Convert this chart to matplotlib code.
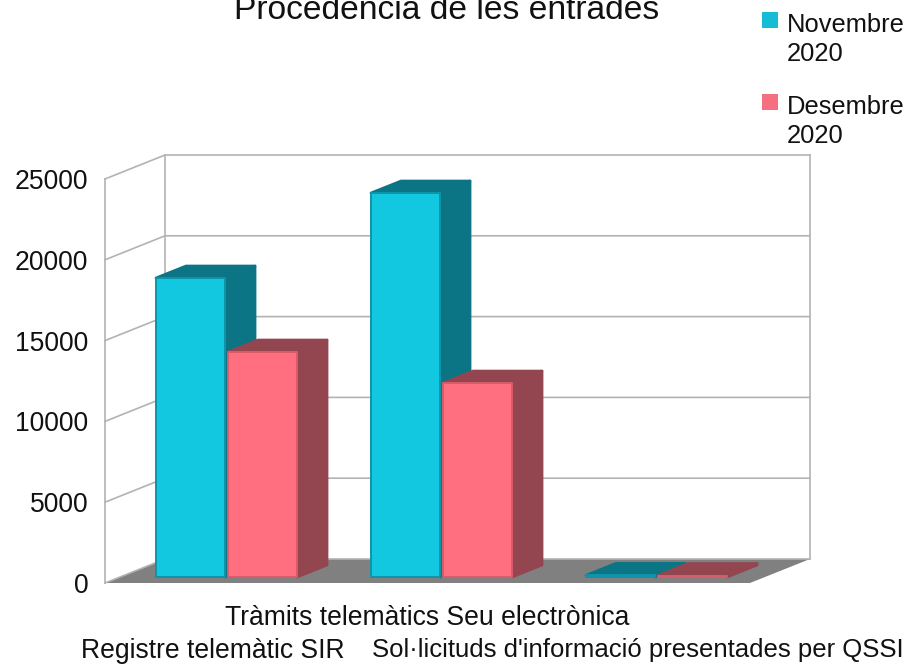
import matplotlib
matplotlib.use("Agg")
import matplotlib.pyplot as plt
from matplotlib.patches import Polygon, Rectangle

plt.rcParams['font.family'] = ['Liberation Sans', 'DejaVu Sans']

W, H = 917, 666

categories = ["Registre telemàtic SIR", "Tràmits telemàtics Seu electrònica",
              "Sol·licituds d'informació presentades per QSSI"]
series_names = ["Novembre\n2020", "Desembre\n2020"]
novembre = [18500, 23760, 100]
desembre = [13920, 12000, 90]
yticks = [0, 5000, 10000, 15000, 20000, 25000]
title = "Procedència de les entrades"

# front, top/side, edge, legend
cyan = ("#12c8e0", "#0b7585", "#0f94a8", "#14bcd4")
pink = ("#ff6f80", "#944650", "#d85c6b", "#f56f80")

fig = plt.figure(figsize=(W/100, H/100), dpi=100)

# front plane of the box, in pixels: x 105-750, y 179-583
ax = fig.add_axes([105/W, 1-583/H, 645/W, 404/H])
ax.set_xlim(0, 3)
ax.set_ylim(0, 25000)
for s in ax.spines.values():
    s.set_visible(False)

dep_x = 60/215
dep_y = 24/(404/25000)
grid_c = "#b3b3b3"

def poly(pts, fc, ec=None, lw=0, z=1):
    ax.add_patch(Polygon(pts, closed=True, facecolor=fc, edgecolor=ec if ec else fc,
                         linewidth=lw, joinstyle='round', clip_on=False, zorder=z))

# floor
poly([(0, 0), (3, 0), (3+dep_x, dep_y), (dep_x, dep_y)], "#808080", z=1)

# walls
for v in yticks:
    ax.plot([0, dep_x, 3+dep_x], [v, v+dep_y, v+dep_y], color=grid_c, lw=1.2,
            clip_on=False, zorder=2, solid_joinstyle='miter')
ax.plot([0, 0], [0, 25000], color=grid_c, lw=1.2, clip_on=False, zorder=2)
ax.plot([dep_x, dep_x], [dep_y, 25000+dep_y], color=grid_c, lw=1.2, clip_on=False, zorder=2)
ax.plot([3+dep_x, 3+dep_x], [dep_y, 25000+dep_y], color=grid_c, lw=1.2, clip_on=False, zorder=2)

def bar3d(x0, w, v, colors, z):
    f, d, e = colors[:3]
    fx, fy = 0.25*dep_x, 0.25*dep_y
    bx, by = 0.5*dep_x, 0.5*dep_y
    x0 = x0+fx
    x1 = x0+w
    y0 = fy
    y1 = fy+v
    poly([(x1, y0), (x1+bx, y0+by), (x1+bx, y1+by), (x1, y1)], d, d, 2, z)
    poly([(x0, y1), (x1, y1), (x1+bx, y1+by), (x0+bx, y1+by)], d, d, 2, z)
    poly([(x0, y0), (x1, y0), (x1, y1), (x0, y1)], f, e, 1.4, z+0.5)

bw = 69/215
gap = 3/215
for i in range(len(categories)):
    start = i+36/215
    bar3d(start, bw, novembre[i], cyan, 3+2*i)
    bar3d(start+bw+gap, bw, desembre[i], pink, 4+2*i)

ax.set_yticks(yticks)
ax.set_xticks([0.5, 1.5, 2.48], categories)
ax.tick_params(axis='both', length=0, labelsize=19.1, labelcolor="#111111")
ax.tick_params(axis='y', pad=12)
for i, t in enumerate(ax.xaxis.get_major_ticks()):
    t.set_pad(15.5 if i == 1 else 39.5)
ax.get_xticklabels()[2].set_fontsize(18.5)

fig.text(447/W, 1-19/H, title, ha='center', va='baseline', fontsize=24.2, color="#111111")

# legend
for y, name, c in zip([12, 94], series_names, [cyan, pink]):
    fig.add_artist(Rectangle((762/W, 1-(y+16)/H), 16/W, 16/H, transform=fig.transFigure,
                             facecolor=c[3], edgecolor='none'))
    fig.text(787/W, 1-(y+1)/H, name, ha='left', va='top', fontsize=18.4,
             color="#111111", linespacing=1.27)

fig.savefig("out.png", dpi=100)
